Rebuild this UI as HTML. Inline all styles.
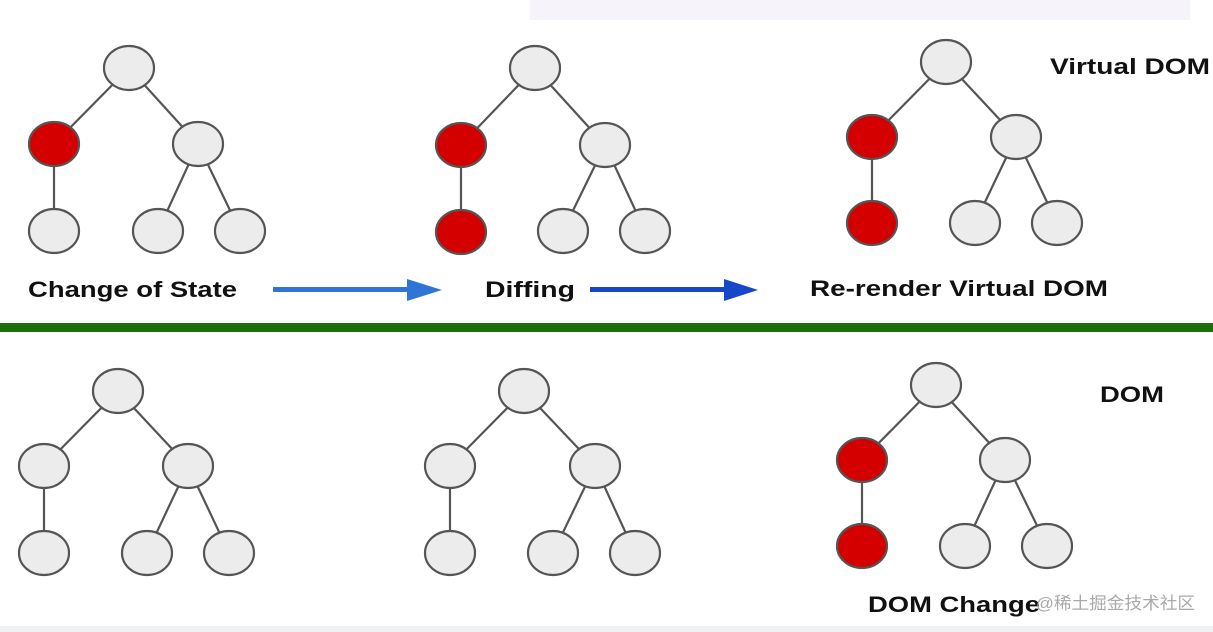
<!DOCTYPE html>
<html><head><meta charset="utf-8"><style>
html,body{margin:0;padding:0;background:#fff;}
svg{display:block}
text{font-family:"Liberation Sans","Noto Sans CJK SC",sans-serif;font-weight:bold;fill:#111}
</style></head><body>
<svg width="1213" height="632" viewBox="0 0 1213 632" xmlns="http://www.w3.org/2000/svg">
<rect x="530" y="0" width="660" height="20" fill="#f6f3fa"/>
<rect x="0" y="626" width="1213" height="6" fill="#f1f2f4"/>
<rect x="0" y="323" width="1213" height="9" fill="#1b6e0b"/>
<g stroke="#555" stroke-width="2.2">
<g>
<line x1="129" y1="68" x2="54" y2="144"/><line x1="129" y1="68" x2="198" y2="144"/><line x1="54" y1="144" x2="54" y2="231"/><line x1="198" y1="144" x2="158" y2="231"/><line x1="198" y1="144" x2="240" y2="231"/>
<line x1="535" y1="68" x2="461" y2="145"/><line x1="535" y1="68" x2="605" y2="145"/><line x1="461" y1="145" x2="461" y2="232"/><line x1="605" y1="145" x2="563" y2="231"/><line x1="605" y1="145" x2="645" y2="231"/>
<line x1="946" y1="62" x2="872" y2="137"/><line x1="946" y1="62" x2="1016" y2="137"/><line x1="872" y1="137" x2="872" y2="223"/><line x1="1016" y1="137" x2="975" y2="223"/><line x1="1016" y1="137" x2="1057" y2="223"/>
<line x1="118" y1="391" x2="44" y2="466"/><line x1="118" y1="391" x2="188" y2="466"/><line x1="44" y1="466" x2="44" y2="553"/><line x1="188" y1="466" x2="147" y2="553"/><line x1="188" y1="466" x2="229" y2="553"/>
<line x1="524" y1="391" x2="450" y2="466"/><line x1="524" y1="391" x2="595" y2="466"/><line x1="450" y1="466" x2="450" y2="553"/><line x1="595" y1="466" x2="553" y2="553"/><line x1="595" y1="466" x2="635" y2="553"/>
<line x1="936" y1="385" x2="862" y2="460"/><line x1="936" y1="385" x2="1005" y2="460"/><line x1="862" y1="460" x2="862" y2="546"/><line x1="1005" y1="460" x2="965" y2="546"/><line x1="1047" y1="546" x2="1005" y2="460"/>
</g>
<g fill="#ececec">
<ellipse cx="129" cy="68" rx="25" ry="22"/><ellipse cx="198" cy="144" rx="25" ry="22"/><ellipse cx="54" cy="231" rx="25" ry="22"/><ellipse cx="158" cy="231" rx="25" ry="22"/><ellipse cx="240" cy="231" rx="25" ry="22"/>
<ellipse cx="535" cy="68" rx="25" ry="22"/><ellipse cx="605" cy="145" rx="25" ry="22"/><ellipse cx="563" cy="231" rx="25" ry="22"/><ellipse cx="645" cy="231" rx="25" ry="22"/>
<ellipse cx="946" cy="62" rx="25" ry="22"/><ellipse cx="1016" cy="137" rx="25" ry="22"/><ellipse cx="975" cy="223" rx="25" ry="22"/><ellipse cx="1057" cy="223" rx="25" ry="22"/>
<ellipse cx="118" cy="391" rx="25" ry="22"/><ellipse cx="44" cy="466" rx="25" ry="22"/><ellipse cx="188" cy="466" rx="25" ry="22"/><ellipse cx="44" cy="553" rx="25" ry="22"/><ellipse cx="147" cy="553" rx="25" ry="22"/><ellipse cx="229" cy="553" rx="25" ry="22"/>
<ellipse cx="524" cy="391" rx="25" ry="22"/><ellipse cx="450" cy="466" rx="25" ry="22"/><ellipse cx="595" cy="466" rx="25" ry="22"/><ellipse cx="450" cy="553" rx="25" ry="22"/><ellipse cx="553" cy="553" rx="25" ry="22"/><ellipse cx="635" cy="553" rx="25" ry="22"/>
<ellipse cx="936" cy="385" rx="25" ry="22"/><ellipse cx="1005" cy="460" rx="25" ry="22"/><ellipse cx="965" cy="546" rx="25" ry="22"/><ellipse cx="1047" cy="546" rx="25" ry="22"/>
</g>
<g fill="#d40000">
<ellipse cx="54" cy="144" rx="25" ry="22"/>
<ellipse cx="461" cy="145" rx="25" ry="22"/><ellipse cx="461" cy="232" rx="25" ry="22"/>
<ellipse cx="872" cy="137" rx="25" ry="22"/><ellipse cx="872" cy="223" rx="25" ry="22"/>
<ellipse cx="862" cy="460" rx="25" ry="22"/><ellipse cx="862" cy="546" rx="25" ry="22"/>
</g>
</g>
<rect x="273" y="287" width="140" height="5" fill="#2f74d6"/>
<polygon points="407,279 442,290 407,301" fill="#2f74d6"/>
<rect x="590" y="287" width="140" height="5" fill="#1547c8"/>
<polygon points="724,279 758,290 724,301" fill="#1547c8"/>
<text x="28" y="297" font-size="22" textLength="209" lengthAdjust="spacingAndGlyphs">Change of State</text>
<text x="485" y="297" font-size="22" textLength="90" lengthAdjust="spacingAndGlyphs">Diffing</text>
<text x="810" y="296" font-size="22" textLength="298" lengthAdjust="spacingAndGlyphs">Re-render Virtual DOM</text>
<text x="1050" y="74" font-size="22" textLength="160" lengthAdjust="spacingAndGlyphs">Virtual DOM</text>
<text x="1100" y="402" font-size="22" textLength="64" lengthAdjust="spacingAndGlyphs">DOM</text>
<text x="868" y="612" font-size="22" textLength="172" lengthAdjust="spacingAndGlyphs">DOM Change</text>
<text x="1036" y="609" font-size="17" textLength="159" lengthAdjust="spacingAndGlyphs" style="font-weight:normal;fill:#aaa">@稀土掘金技术社区</text>
</svg>
</body></html>
